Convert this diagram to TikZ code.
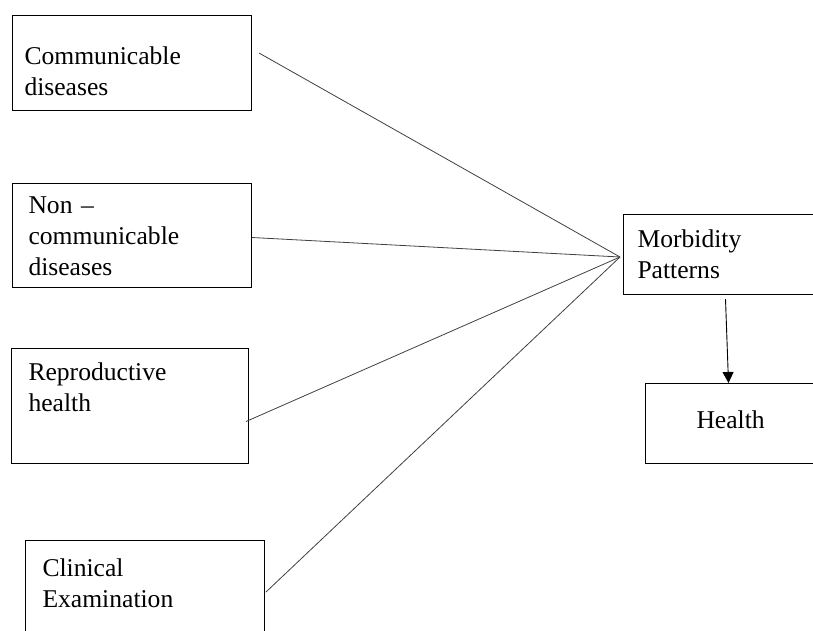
\documentclass[tikz,border=0pt]{standalone}
\usepackage{fontspec}
\setmainfont{Liberation Serif}
\usetikzlibrary{arrows.meta}

\tikzset{
  box/.style={draw, line width=1pt, anchor=north west, inner ysep=0pt, align=left,
    font=\fontsize{25.6}{31}\selectfont},
  link/.style={line width=0.8pt, black!75},
}

\begin{document}
\begin{tikzpicture}[x=1pt,y=-1pt]
  % page size of the reference
  \useasboundingbox (0,0) rectangle (813,630);

  % factor boxes on the left
  \node[box, inner xsep=12pt, text width=215pt, text height=49pt, text depth=46pt] (comm) at (12,15) {Communicable\\diseases};
  \node[box, inner xsep=16pt, text width=207pt, text height=30pt, text depth=74pt] (noncomm) at (12,183) {Non --\\communicable\\diseases};
  \node[box, inner xsep=17pt, text width=203pt, text height=32pt, text depth=83pt] (repro) at (11,348) {Reproductive\\health};
  \node[box, inner xsep=17pt, text width=205pt, text height=36pt, text depth=69pt] (clin) at (25,540) {Clinical\\Examination};

  % outcome boxes on the right
  \node[box, inner xsep=14pt, text width=182pt, text height=33pt, text depth=47pt] (morb) at (623,214) {Morbidity\\Patterns};
  \node[box, inner xsep=51pt, text width=88pt, text height=45pt, text depth=35pt] (health) at (645,383) {Health};

  % all factors meet left of the morbidity box
  \coordinate (hub) at (620,257);
  \draw[link] ([shift={(7,-10)}]comm.east) -- (hub);
  \draw[link] ([shift={(0,2)}]noncomm.east) -- (hub);
  \draw[link] ([shift={(-3,15.5)}]repro.east) -- (hub);
  \draw[link] ([shift={(1,-1)}]clin.east) -- (hub);

  % morbidity leads to health
  \draw[line width=0.9pt, -{Triangle[length=11pt,width=11pt]}] ([shift={(-3,4)}]morb.south) -- ([shift={(-12,0)}]health.north);
\end{tikzpicture}
\end{document}
